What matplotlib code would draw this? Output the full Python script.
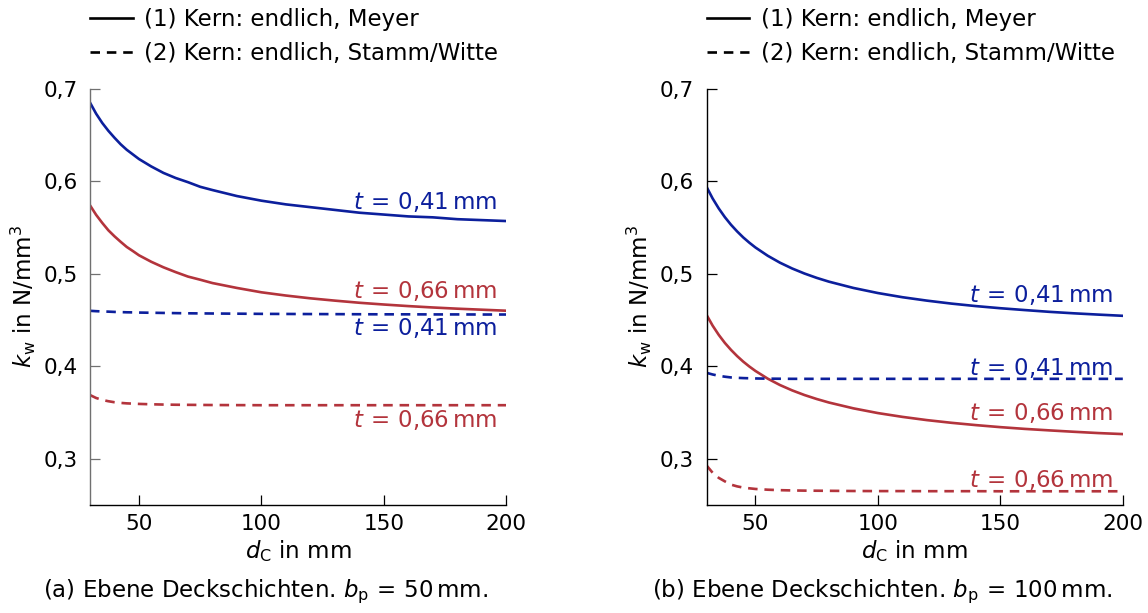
import matplotlib
matplotlib.use("Agg")
import matplotlib.pyplot as plt
from matplotlib.lines import Line2D

plt.rcParams["font.family"] = ["DejaVu Sans"]
plt.rcParams["mathtext.fontset"] = "dejavusans"

# core thickness d_C in mm
d_c = [30, 32.5, 35, 37.5, 40, 42.5, 45, 47.5, 50, 55, 60, 65, 70, 75, 80, 90,
       100, 110, 120, 130, 140, 150, 160, 170, 180, 190, 200]

# (a) b_p = 50 mm
a_meyer_041 = [0.685, 0.673, 0.663, 0.6545, 0.647, 0.640, 0.634, 0.629, 0.624, 0.616,
               0.609, 0.6035, 0.599, 0.594, 0.5905, 0.584, 0.579, 0.575, 0.572, 0.569,
               0.566, 0.564, 0.562, 0.561, 0.559, 0.558, 0.557]
a_meyer_066 = [0.574, 0.5637, 0.555, 0.547, 0.5405, 0.5346, 0.529, 0.5246, 0.520, 0.513,
               0.507, 0.5018, 0.497, 0.4936, 0.490, 0.4847, 0.480, 0.4765, 0.4735, 0.471,
               0.4687, 0.4668, 0.4651, 0.4636, 0.4623, 0.4612, 0.4601]
a_stamm_041 = [0.460, 0.4596, 0.4593, 0.4591, 0.4588, 0.4586, 0.4584, 0.4583, 0.4581, 0.4579,
               0.4577, 0.4575, 0.4573, 0.4572, 0.4571, 0.4569, 0.4567, 0.4566, 0.4565, 0.4564,
               0.4563, 0.4562, 0.4562, 0.4561, 0.4561, 0.456, 0.456]
a_stamm_066 = [0.369, 0.3658, 0.3637, 0.3623, 0.3612, 0.3605, 0.360, 0.3597, 0.3594, 0.359,
               0.3587, 0.3585, 0.3584, 0.3583, 0.3582, 0.3581, 0.358, 0.358, 0.358, 0.358,
               0.358, 0.358, 0.358, 0.358, 0.358, 0.358, 0.358]

# (b) b_p = 100 mm
b_meyer_041 = [0.594, 0.5814, 0.5706, 0.5612, 0.553, 0.5458, 0.5393, 0.5336, 0.5284, 0.5195,
               0.512, 0.5057, 0.5003, 0.4956, 0.4915, 0.4847, 0.4792, 0.4747, 0.471, 0.4678,
               0.4651, 0.4628, 0.4608, 0.4589, 0.4573, 0.4559, 0.4546]
b_meyer_066 = [0.4557, 0.444, 0.434, 0.4253, 0.4178, 0.4111, 0.4051, 0.3998, 0.395, 0.3867,
               0.3798, 0.374, 0.369, 0.3647, 0.3609, 0.3546, 0.3495, 0.3454, 0.3419, 0.339,
               0.3365, 0.3343, 0.3324, 0.3308, 0.3293, 0.3279, 0.3268]
b_stamm_041 = [0.393, 0.3912, 0.3898, 0.3888, 0.388, 0.3876, 0.3873, 0.3871, 0.3869, 0.3867,
               0.3866, 0.3865, 0.3865, 0.3865, 0.3865, 0.3865, 0.3865, 0.3865, 0.3865, 0.3865,
               0.3865, 0.3865, 0.3865, 0.3865, 0.3865, 0.3865, 0.3865]
b_stamm_066 = [0.293, 0.285, 0.2795, 0.2757, 0.2722, 0.2703, 0.269, 0.2682, 0.2675, 0.2667,
               0.2662, 0.2659, 0.2657, 0.2656, 0.2655, 0.2653, 0.2652, 0.2652, 0.2651, 0.2651,
               0.2651, 0.265, 0.265, 0.265, 0.265, 0.265, 0.265]

x_ticks = [50, 100, 150, 200]
y_ticks = [0.3, 0.4, 0.5, 0.6, 0.7]
y_tick_labels = ["0,3", "0,4", "0,5", "0,6", "0,7"]

legend_labels = ["(1) Kern: endlich, Meyer", "(2) Kern: endlich, Stamm/Witte"]
captions = [r"(a) Ebene Deckschichten. $b_\mathrm{p}\,=\,50\,\mathrm{mm}$.",
            r"(b) Ebene Deckschichten. $b_\mathrm{p}\,=\,100\,\mathrm{mm}$."]
label_041 = r"$t\,=\,0{,}41\,\mathrm{mm}$"
label_066 = r"$t\,=\,0{,}66\,\mathrm{mm}$"

# label heights (text centre) per panel: meyer41, meyer66, stamm41, stamm66
label_y = [[0.578, 0.481, 0.441, 0.342],
           [0.477, 0.350, 0.398, 0.277]]

BLUE = "#0c1f9c"
RED = "#b3343c"
FS = 16.5
FS_TICK = 15.5
LW = 1.9
DASH = (0, (3.6, 2.6))

fig = plt.figure(figsize=(11.48, 6.13), dpi=100)
W, H = 1148, 613
panels = [
    (90, a_meyer_041, a_meyer_066, a_stamm_041, a_stamm_066, "#707070"),
    (706.5, b_meyer_041, b_meyer_066, b_stamm_041, b_stamm_066, "black"),
]

for i, (x0, m41, m66, s41, s66, lcol) in enumerate(panels):
    ax = fig.add_axes([x0 / W, (H - 504.7) / H, 416.3 / W, 416 / H])
    kw = dict(lw=LW, solid_joinstyle="round", dash_joinstyle="round")
    ax.plot(d_c, m41, color=BLUE, **kw)
    ax.plot(d_c, m66, color=RED, **kw)
    ax.plot(d_c, s41, color=BLUE, linestyle=DASH, **kw)
    ax.plot(d_c, s66, color=RED, linestyle=DASH, **kw)

    ax.set_xlim(30, 200)
    ax.set_ylim(0.2505, 0.7)
    ax.spines["top"].set_visible(False)
    ax.spines["right"].set_visible(False)
    ax.spines["left"].set_color(lcol)
    for s in ("left", "bottom"):
        ax.spines[s].set_linewidth(1.0)
    ax.set_xticks(x_ticks)
    ax.set_yticks(y_ticks)
    ax.set_yticklabels(y_tick_labels)
    ax.tick_params(axis="both", direction="in", length=7.5, width=0.9,
                   labelsize=FS_TICK, pad=7)
    ax.tick_params(axis="y", color=lcol, pad=9)

    ax.set_xlabel(r"$d_\mathrm{C}$ in mm", fontsize=FS, labelpad=3)
    ax.set_ylabel(r"$k_\mathrm{w}$ in N/mm$^3$", fontsize=FS, labelpad=4)

    ly = label_y[i]
    for txt, yv, col in ((label_041, ly[0], BLUE), (label_066, ly[1], RED),
                         (label_041, ly[2], BLUE), (label_066, ly[3], RED)):
        ax.text(196, yv, txt, color=col, fontsize=FS, ha="right", va="center")

    handles = [Line2D([], [], color="black", lw=LW),
               Line2D([], [], color="black", lw=LW, linestyle=DASH)]
    ax.legend(handles, legend_labels, loc="upper left",
              bbox_to_anchor=(x0 / W, 1 - 8 / H), bbox_transform=fig.transFigure,
              frameon=False, fontsize=FS,
              handlelength=1.87, handletextpad=0.5, labelspacing=0.5,
              borderpad=0, borderaxespad=0)

    fig.text((x0 + 176) / W, 1 - 592 / H, captions[i], fontsize=FS,
             ha="center", va="center")

fig.savefig("out.png", dpi=100)
